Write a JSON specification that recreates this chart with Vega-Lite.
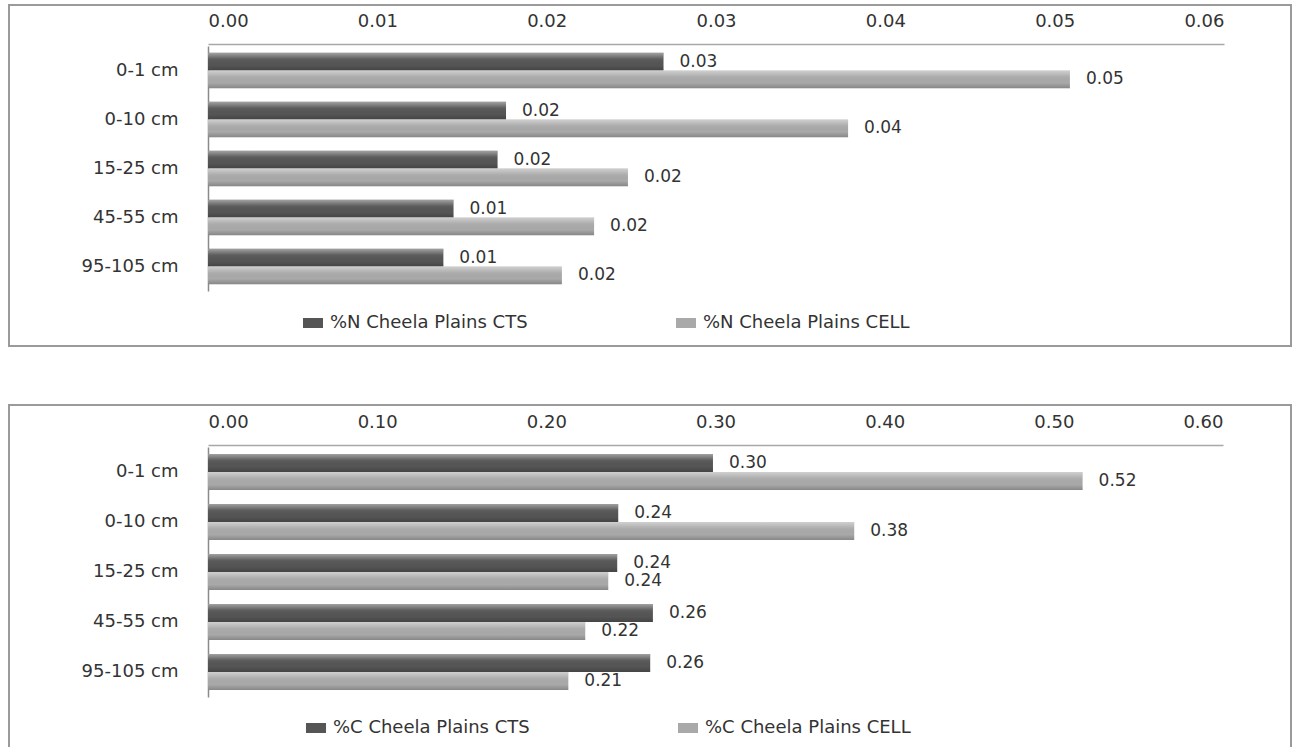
{
  "$schema": "https://vega.github.io/schema/vega-lite/v6.json",
  "padding": {"top": 4, "left": 8, "right": 0, "bottom": 0},
  "config": {
    "font": "DejaVu Sans",
    "view": {"stroke": "#9a9a9a", "strokeWidth": 2},
    "axis": {"labelFont": "DejaVu Sans", "labelFontSize": 18, "labelColor": "#333333", "ticks": false, "grid": false, "title": null},
    "legend": {"labelFont": "DejaVu Sans", "labelFontSize": 18, "labelColor": "#333333", "labelLimit": 500}
  },
  "datasets": {
    "N": [
      {"depth": "0-1 cm", "series": "%N Cheela Plains CTS", "value": 0.0269},
      {"depth": "0-1 cm", "series": "%N Cheela Plains CELL", "value": 0.0509},
      {"depth": "0-10 cm", "series": "%N Cheela Plains CTS", "value": 0.0176},
      {"depth": "0-10 cm", "series": "%N Cheela Plains CELL", "value": 0.0378},
      {"depth": "15-25 cm", "series": "%N Cheela Plains CTS", "value": 0.0171},
      {"depth": "15-25 cm", "series": "%N Cheela Plains CELL", "value": 0.0248},
      {"depth": "45-55 cm", "series": "%N Cheela Plains CTS", "value": 0.0145},
      {"depth": "45-55 cm", "series": "%N Cheela Plains CELL", "value": 0.0228},
      {"depth": "95-105 cm", "series": "%N Cheela Plains CTS", "value": 0.0139},
      {"depth": "95-105 cm", "series": "%N Cheela Plains CELL", "value": 0.0209}
    ],
    "C": [
      {"depth": "0-1 cm", "series": "%C Cheela Plains CTS", "value": 0.2985},
      {"depth": "0-1 cm", "series": "%C Cheela Plains CELL", "value": 0.517},
      {"depth": "0-10 cm", "series": "%C Cheela Plains CTS", "value": 0.2425},
      {"depth": "0-10 cm", "series": "%C Cheela Plains CELL", "value": 0.382},
      {"depth": "15-25 cm", "series": "%C Cheela Plains CTS", "value": 0.2419},
      {"depth": "15-25 cm", "series": "%C Cheela Plains CELL", "value": 0.2366},
      {"depth": "45-55 cm", "series": "%C Cheela Plains CTS", "value": 0.263},
      {"depth": "45-55 cm", "series": "%C Cheela Plains CELL", "value": 0.223},
      {"depth": "95-105 cm", "series": "%C Cheela Plains CTS", "value": 0.2614},
      {"depth": "95-105 cm", "series": "%C Cheela Plains CELL", "value": 0.213}
    ]
  },
  "spacing": 57,
  "resolve": {
    "scale": {"color": "independent", "x": "independent", "y": "independent", "yOffset": "independent"},
    "legend": {"color": "independent"}
  },
  "vconcat": [
    {
      "width": 1282,
      "height": 341,
      "data": {"name": "N"},
      "encoding": {
        "y": {"field": "depth", "type": "nominal", "sort": null,
          "scale": {"range": [41, 286], "paddingInner": 0.28, "paddingOuter": 0.14},
          "axis": {"orient": "left", "offset": -199, "labelPadding": 30, "domainColor": "#8a8a8a", "domainWidth": 1.5}},
        "x": {"field": "value", "type": "quantitative",
          "scale": {"domain": [0, 0.06], "range": [199, 1215], "nice": false},
          "axis": {"orient": "top", "offset": -39, "values": [0, 0.01, 0.02, 0.03, 0.04, 0.05, 0.06], "format": ".2f", "labelPadding": 14, "domainColor": "#a8a8a8", "domainWidth": 1.5}},
        "yOffset": {"field": "series", "type": "nominal", "scale": {"domain": ["%N Cheela Plains CTS", "%N Cheela Plains CELL"]}}
      },
      "layer": [
        {
          "mark": {"type": "bar"},
          "encoding": {
            "color": {"field": "series", "type": "nominal",
              "scale": {"domain": ["%N Cheela Plains CTS", "%N Cheela Plains CELL"], "range": ["#555555", "#a9a9a9"]},
              "legend": {"orient": "none", "legendX": 294, "legendY": 308, "direction": "horizontal", "title": null,
                "symbolType": "M-1,-0.5H1V0.5H-1Z", "symbolSize": 400, "symbolStrokeWidth": 0, "labelOffset": 7, "columnPadding": 148}}
          }
        },
        {
          "mark": {"type": "bar", "fill": {"gradient": "linear", "x1": 0, "y1": 0, "x2": 0, "y2": 1,
            "stops": [
              {"offset": 0, "color": "rgba(255,255,255,0.45)"},
              {"offset": 0.35, "color": "rgba(255,255,255,0.05)"},
              {"offset": 0.7, "color": "rgba(0,0,0,0)"},
              {"offset": 1, "color": "rgba(0,0,0,0.2)"}
            ]}}
        },
        {
          "mark": {"type": "text", "align": "left", "baseline": "middle", "dx": 16, "fontSize": 17, "color": "#333333"},
          "encoding": {"text": {"field": "value", "type": "quantitative", "format": ".2f"}}
        }
      ]
    },
    {
      "width": 1282,
      "height": 345,
      "data": {"name": "C"},
      "encoding": {
        "y": {"field": "depth", "type": "nominal", "sort": null,
          "scale": {"range": [42, 292], "paddingInner": 0.28, "paddingOuter": 0.14},
          "axis": {"orient": "left", "offset": -199, "labelPadding": 30, "domainColor": "#8a8a8a", "domainWidth": 1.5}},
        "x": {"field": "value", "type": "quantitative",
          "scale": {"domain": [0, 0.6], "range": [199, 1214], "nice": false},
          "axis": {"orient": "top", "offset": -40, "values": [0, 0.1, 0.2, 0.3, 0.4, 0.5, 0.6], "format": ".2f", "labelPadding": 14, "domainColor": "#a8a8a8", "domainWidth": 1.5}},
        "yOffset": {"field": "series", "type": "nominal", "scale": {"domain": ["%C Cheela Plains CTS", "%C Cheela Plains CELL"]}}
      },
      "layer": [
        {
          "mark": {"type": "bar"},
          "encoding": {
            "color": {"field": "series", "type": "nominal",
              "scale": {"domain": ["%C Cheela Plains CTS", "%C Cheela Plains CELL"], "range": ["#555555", "#a9a9a9"]},
              "legend": {"orient": "none", "legendX": 297, "legendY": 313, "direction": "horizontal", "title": null,
                "symbolType": "M-1,-0.5H1V0.5H-1Z", "symbolSize": 400, "symbolStrokeWidth": 0, "labelOffset": 7, "columnPadding": 148}}
          }
        },
        {
          "mark": {"type": "bar", "fill": {"gradient": "linear", "x1": 0, "y1": 0, "x2": 0, "y2": 1,
            "stops": [
              {"offset": 0, "color": "rgba(255,255,255,0.45)"},
              {"offset": 0.35, "color": "rgba(255,255,255,0.05)"},
              {"offset": 0.7, "color": "rgba(0,0,0,0)"},
              {"offset": 1, "color": "rgba(0,0,0,0.2)"}
            ]}}
        },
        {
          "mark": {"type": "text", "align": "left", "baseline": "middle", "dx": 16, "fontSize": 17, "color": "#333333"},
          "encoding": {"text": {"field": "value", "type": "quantitative", "format": ".2f"}}
        }
      ]
    }
  ]
}
